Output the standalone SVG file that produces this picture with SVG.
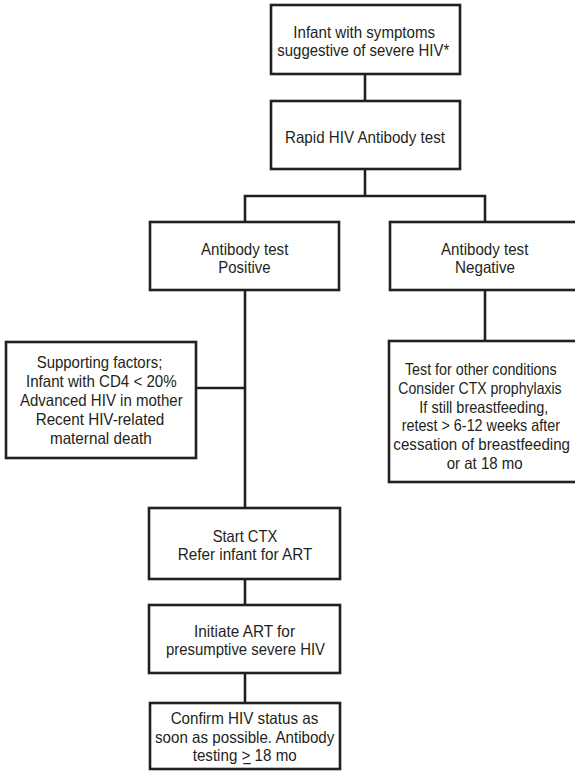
<svg xmlns="http://www.w3.org/2000/svg" width="575" height="771" viewBox="0 0 575 771">
<style>
.box{fill:#fff;stroke:#231f20;stroke-width:2.6}
.ln{fill:none;stroke:#231f20;stroke-width:2.6}
text{font-family:"Liberation Sans",Arial,sans-serif;font-size:16.5px;fill:#231f20;text-anchor:middle}
</style>
<rect width="575" height="771" fill="#fff"/>
<g id="connectors">
<path class="ln" d="M365 74V101"/>
<path class="ln" d="M365 169V196M245 222V196H485V222"/>
<path class="ln" d="M245 290V508"/>
<path class="ln" d="M196 388H245"/>
<path class="ln" d="M485 290V341"/>
<path class="ln" d="M245 579V605"/>
<path class="ln" d="M245 673V703"/>
</g>
<g id="n1">
<rect class="box" x="271" y="5" width="189" height="69"/>
<text x="364.2" y="37.5" textLength="141.7" lengthAdjust="spacingAndGlyphs">Infant with symptoms</text>
<text x="363.3" y="55.5" textLength="172" lengthAdjust="spacingAndGlyphs">suggestive of severe HIV*</text>
</g>
<g id="n2">
<rect class="box" x="271" y="101" width="189" height="68"/>
<text x="365" y="143.3" textLength="160" lengthAdjust="spacingAndGlyphs">Rapid HIV Antibody test</text>
</g>
<g id="n3">
<rect class="box" x="150" y="222" width="189" height="68"/>
<text x="244.7" y="254.5" textLength="87.3" lengthAdjust="spacingAndGlyphs">Antibody test</text>
<text x="244.5" y="273" textLength="52.3" lengthAdjust="spacingAndGlyphs">Positive</text>
</g>
<g id="n4">
<rect class="box" x="390" y="222" width="190" height="68"/>
<text x="484.7" y="254.5" textLength="87.3" lengthAdjust="spacingAndGlyphs">Antibody test</text>
<text x="485" y="273" textLength="60" lengthAdjust="spacingAndGlyphs">Negative</text>
</g>
<g id="n5">
<rect class="box" x="6" y="342" width="190" height="116"/>
<text x="99.5" y="368.3" textLength="125.7" lengthAdjust="spacingAndGlyphs">Supporting factors;</text>
<text x="101.3" y="387.3" textLength="150.7" lengthAdjust="spacingAndGlyphs">Infant with CD4 &lt; 20%</text>
<text x="101.3" y="406" textLength="162.7" lengthAdjust="spacingAndGlyphs">Advanced HIV in mother</text>
<text x="100" y="425" textLength="128.7" lengthAdjust="spacingAndGlyphs">Recent HIV-related</text>
<text x="100.8" y="444" textLength="101.7" lengthAdjust="spacingAndGlyphs">maternal death</text>
</g>
<g id="n6">
<rect class="box" x="389" y="341" width="190" height="141"/>
<text x="480.8" y="375" textLength="151.7" lengthAdjust="spacingAndGlyphs">Test for other conditions</text>
<text x="480" y="393.8" textLength="163.3" lengthAdjust="spacingAndGlyphs">Consider CTX prophylaxis</text>
<text x="483.8" y="412.6" textLength="129" lengthAdjust="spacingAndGlyphs">If still breastfeeding,</text>
<text x="480.8" y="431.4" textLength="158.3" lengthAdjust="spacingAndGlyphs">retest &gt; 6-12 weeks after</text>
<text x="481.7" y="450.2" textLength="176.7" lengthAdjust="spacingAndGlyphs">cessation of breastfeeding</text>
<text x="484.7" y="469" textLength="76" lengthAdjust="spacingAndGlyphs">or at 18 mo</text>
</g>
<g id="n7">
<rect class="box" x="149" y="508" width="191" height="71"/>
<text x="245" y="541.7" textLength="64.7" lengthAdjust="spacingAndGlyphs">Start CTX</text>
<text x="245" y="560" textLength="134.7" lengthAdjust="spacingAndGlyphs">Refer infant for ART</text>
</g>
<g id="n8">
<rect class="box" x="149" y="605" width="191" height="68"/>
<text x="244.5" y="636.7" textLength="101" lengthAdjust="spacingAndGlyphs">Initiate ART for</text>
<text x="245.5" y="655" textLength="159" lengthAdjust="spacingAndGlyphs">presumptive severe HIV</text>
</g>
<g id="n9">
<rect class="box" x="150" y="703" width="190" height="66"/>
<text x="244.5" y="724" textLength="147.7" lengthAdjust="spacingAndGlyphs">Confirm HIV status as</text>
<text x="244.7" y="743.3" textLength="179.3" lengthAdjust="spacingAndGlyphs">soon as possible. Antibody</text>
<text x="244.7" y="761" textLength="104" lengthAdjust="spacingAndGlyphs">testing &gt; 18 mo</text>
<path d="M243.3 763.6H250.9" stroke="#231f20" stroke-width="1.2"/>
</g>
</svg>
